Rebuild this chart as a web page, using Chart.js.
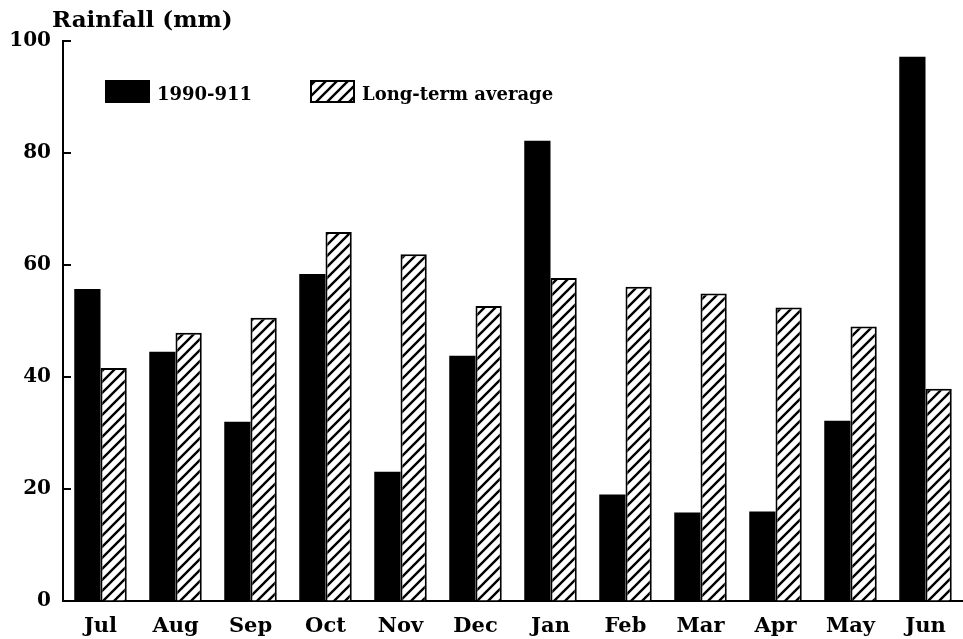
<!DOCTYPE html>
<html>
  <head>
    <title>Rainfall</title>
    <script src="https://cdn.jsdelivr.net/npm/chart.js"></script>
    <style>
      html, body {
        margin: 0;
        padding: 0;
        background: #fff;
      }

      #wrap {
        width: 963px;
        height: 639px;
      }
    </style>
  </head>
  <body>
    <div id="wrap"><canvas id="rainChart"></canvas></div>

    <script>
      const months = ['Jul', 'Aug', 'Sep', 'Oct', 'Nov', 'Dec', 'Jan', 'Feb', 'Mar', 'Apr', 'May', 'Jun'];
      const season = [55.7, 44.5, 32.0, 58.4, 23.1, 43.8, 82.2, 19.0, 15.8, 16.0, 32.2, 97.2];
      const longTerm = [41.6, 47.9, 50.6, 65.9, 61.9, 52.7, 57.7, 56.1, 54.9, 52.4, 49.0, 37.9];
      const yTicks = [0, 20, 40, 60, 80, 100];

      const serif = 'DejaVu Serif';

      function makeHatch() {
        const s = 11;
        const c = document.createElement('canvas');
        c.width = s;
        c.height = s;
        const g = c.getContext('2d');
        g.fillStyle = '#fff';
        g.fillRect(0, 0, s, s);
        g.strokeStyle = '#000';
        g.lineWidth = 2.4;
        g.beginPath();
        g.moveTo(-1, s + 1); g.lineTo(s + 1, -1);
        g.moveTo(-2, 2); g.lineTo(2, -2);
        g.moveTo(s - 2, s + 2); g.lineTo(s + 2, s - 2);
        g.stroke();
        return g.createPattern(c, 'repeat');
      }
      const hatch = makeHatch();

      // title, legend and inward y ticks
      const extras = {
        id: 'extras',
        afterDraw(chart) {
          const ctx = chart.ctx;
          const y = chart.scales.y;
          const left = chart.chartArea.left;
          ctx.save();
          ctx.strokeStyle = '#000';
          ctx.lineWidth = 2;
          ctx.beginPath();
          yTicks.forEach(v => {
            const py = y.getPixelForValue(v);
            ctx.moveTo(left, py);
            ctx.lineTo(left + 8, py);
          });
          ctx.stroke();

          ctx.fillStyle = '#000';
          ctx.font = 'bold 23px ' + serif;
          ctx.textBaseline = 'middle';
          ctx.textAlign = 'left';
          ctx.fillText('Rainfall (mm)', 52, 21);

          const items = [
            { x: 105, ds: chart.data.datasets[0] },
            { x: 310, ds: chart.data.datasets[1] },
          ];
          ctx.font = 'bold 18px ' + serif;
          items.forEach(it => {
            ctx.fillStyle = it.ds.backgroundColor;
            ctx.fillRect(it.x, 80, 45, 23);
            if (it.ds.borderWidth) {
              ctx.lineWidth = 2;
              ctx.strokeRect(it.x + 1, 81, 43, 21);
            }
            ctx.fillStyle = '#000';
            ctx.fillText(it.ds.label, it.x + 52, 95);
          });
          ctx.restore();
        },
      };

      const ctx = document.getElementById('rainChart').getContext('2d');
      new Chart(ctx, {
        type: 'bar',
        data: {
          labels: months,
          datasets: [
            {
              label: '1990-911',
              data: season,
              backgroundColor: '#000',
              borderWidth: 0,
            },
            {
              label: 'Long-term average',
              data: longTerm,
              backgroundColor: hatch,
              borderColor: '#000',
              borderWidth: 2,
            },
          ],
        },
        options: {
          responsive: true,
          maintainAspectRatio: false,
          animation: false,
          layout: { padding: { top: 41, right: 0, left: 0, bottom: 0 } },
          datasets: {
            bar: { barPercentage: 1.0, categoryPercentage: 0.7 },
          },
          plugins: {
            legend: { display: false },
            tooltip: { enabled: false },
          },
          scales: {
            x: {
              grid: { display: true, drawOnChartArea: false, drawTicks: false },
              border: { display: true, color: '#000', width: 2 },
              ticks: {
                color: '#000',
                padding: 13,
                font: { family: serif, size: 21, weight: 'bold' },
              },
              afterFit(scale) { scale.height = 38; },
            },
            y: {
              min: 0,
              max: 100,
              afterBuildTicks(scale) { scale.ticks = yTicks.map(v => ({ value: v })); },
              grid: { display: true, drawOnChartArea: false, drawTicks: false },
              border: { display: true, color: '#000', width: 2 },
              ticks: {
                color: '#000',
                padding: 12,
                font: { family: serif, size: 20, weight: 'bold' },
              },
              afterFit(scale) { scale.width = 63; },
            },
          },
        },
        plugins: [extras],
      });
    </script>
  </body>
</html>
